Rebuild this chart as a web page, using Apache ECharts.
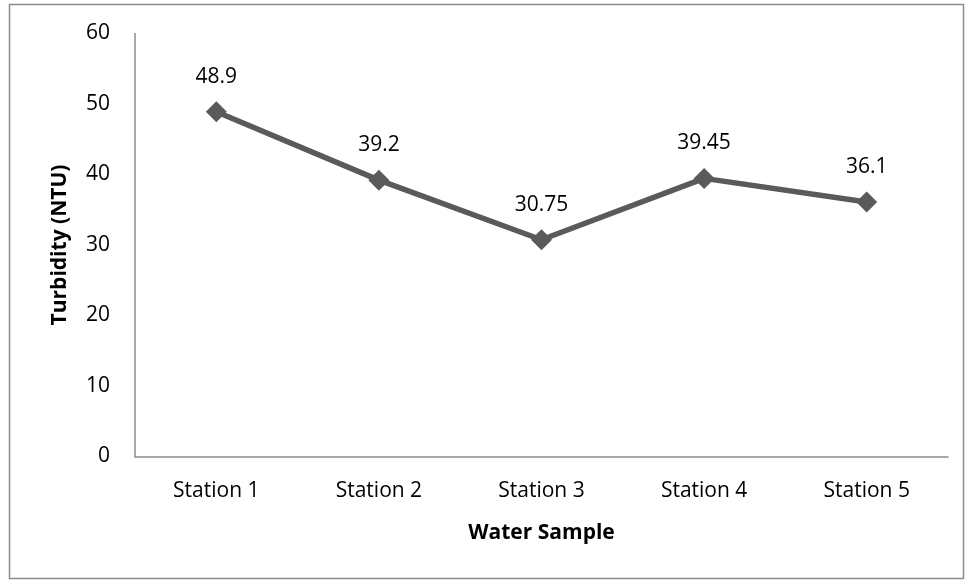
<!DOCTYPE html>
<html><head><meta charset="utf-8">
<script src="https://cdn.jsdelivr.net/npm/echarts@6/dist/echarts.min.js"></script>
<style>html,body{margin:0;padding:0;background:#fff}#c{width:968px;height:581px}</style>
</head><body><div id="c"></div>
<script>
const categories = ['Station 1','Station 2','Station 3','Station 4','Station 5'];
const turbidity = [48.9, 39.2, 30.75, 39.45, 36.1];
const labels = ['48.9','39.2','30.75','39.45','36.1'];
const FONT = '"Open Sans", sans-serif';
const FS = 21;
const chart = echarts.init(document.getElementById('c'), null, {renderer:'canvas'});
chart.setOption({
  animation:false,
  backgroundColor:'#fff',
  graphic:[{type:'rect',shape:{x:9.5,y:4.5,width:954,height:574},style:{fill:'none',stroke:'#8c8c8c',lineWidth:1.5},silent:true}],
  grid:{left:135,top:33.5,right:20,bottom:124.5},
  xAxis:{type:'category',data:categories,boundaryGap:true,
    axisLine:{lineStyle:{color:'#8c8c8c',width:1.5}},axisTick:{show:false},
    axisLabel:{color:'#000',fontFamily:FONT,fontSize:FS,margin:24},
    name:'Water Sample',nameLocation:'middle',nameGap:66,
    nameTextStyle:{color:'#000',fontFamily:FONT,fontSize:FS,fontWeight:'bold'}},
  yAxis:{type:'value',min:0,max:60,interval:10,
    axisLine:{show:true,lineStyle:{color:'#8c8c8c',width:1.5}},axisTick:{show:false},splitLine:{show:false},
    axisLabel:{color:'#000',fontFamily:FONT,fontSize:FS,margin:25},
    name:'Turbidity (NTU)',nameLocation:'middle',nameGap:64,nameRotate:90,
    nameTextStyle:{color:'#000',fontFamily:FONT,fontSize:FS,fontWeight:'bold'}},
  series:[{type:'line',data:turbidity,symbol:'diamond',symbolSize:21,
    lineStyle:{color:'#5a5a5a',width:5.5},itemStyle:{color:'#5a5a5a'},
    label:{show:true,position:'top',distance:14,color:'#000',fontFamily:FONT,fontSize:FS,
      formatter:p=>labels[p.dataIndex]}}]
});
</script></body></html>
